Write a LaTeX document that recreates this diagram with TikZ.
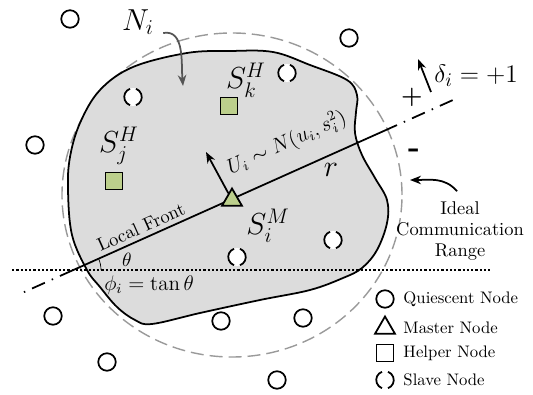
\documentclass[tikz,border=0pt]{standalone}
\usepackage{amsmath,amssymb}
\usetikzlibrary{arrows.meta,positioning,shapes.geometric,calc}
\definecolor{nodegreen}{HTML}{BCCF8C}
\definecolor{blobgray}{HTML}{DCDCDC}
\definecolor{rangegray}{HTML}{9A9A9A}
\definecolor{arrowgray}{HTML}{555555}
\tikzset{
  quiescent/.style={circle, draw, line width=1pt, fill=white, minimum size=3.5mm, inner sep=0pt},
  slave/.style={circle, minimum size=4.4mm, inner sep=0pt,
    path picture={
      \fill[white] (path picture bounding box.center) circle[radius=1.8mm];
      \draw[line width=1pt] ([shift={(110:1.75mm)}]path picture bounding box.center)
        arc[start angle=110, end angle=250, radius=1.75mm];
      \draw[line width=1pt] ([shift={(-70:1.75mm)}]path picture bounding box.center)
        arc[start angle=-70, end angle=70, radius=1.75mm];
    }},
  helper/.style={rectangle, draw, line width=1pt, fill=nodegreen, minimum size=3.4mm, inner sep=0pt},
  master/.style={regular polygon, regular polygon sides=3, draw, line width=1pt, fill=nodegreen,
                 minimum size=4.6mm, inner sep=0pt},
  region/.style={draw, line width=1pt, fill=blobgray},
  commrange/.style={rangegray, line width=0.8pt, dash pattern=on 2.6mm off 1.2mm},
  horiz/.style={line width=0.9pt, dash pattern=on 0.45mm off 0.4mm},
  dashdot/.style={line width=1pt, dash pattern=on 0pt off 1.5mm on 0.3mm off 1.5mm on 2.8mm off 0pt},
  arr/.style={-{Stealth[length=2.2mm, width=1.7mm]}, line width=1pt},
  grayarr/.style={arr, arrowgray},
  biglab/.style={font=\fontsize{18}{20}\selectfont, inner sep=0pt},
  midlab/.style={font=\fontsize{15}{17}\selectfont, inner sep=0pt},
  smalllab/.style={font=\fontsize{10.5}{12}\selectfont, inner sep=0pt, align=center},
  legtext/.style={font=\fontsize{9.5}{11}\selectfont, inner sep=0pt, anchor=west},
}
\begin{document}
\begin{tikzpicture}[x=0.2mm, y=-0.2mm]
  \useasboundingbox (0,0) rectangle (533,395);
  % ideal range and neighbourhood
  \draw[commrange] (232,195) ellipse[x radius=34mm, y radius=32.4mm];
  \draw[region] plot[smooth cycle, tension=0.6] coordinates {
    (68,190) (72,235) (87,270) (100,287) (117,307) (135,320) (152,324) (200,313)
    (260,300) (310,290) (343,278) (362,268) (377,250) (387,223) (387,200) (375,178)
    (362,155) (355,133) (356,112) (357,95) (347,80) (310,65) (273,52) (230,51)
    (187,53) (133,67) (100,90) (80,123) (70,157)};
  \draw[horiz] (12,270) -- (490,270);
  % local front
  \coordinate (fl) at (22,293);
  \coordinate (fr) at (453,100);
  \coordinate (fa) at ($(fl)!0.088!(fr)$);
  \coordinate (fb) at ($(fl)!0.87!(fr)$);
  \draw[line width=1pt] (fa) -- (fb);
  \draw[dashdot] (fa) -- (fl);
  \draw[dashdot] (fb) -- (fr);
  \node[smalllab, rotate=24.1] (front) at (141,227) {Local Front};
  \coordinate (vx) at (73,270);
  \draw[thin] (vx) ++(0:5.6mm) arc[start angle=0, end angle=24.1, radius=5.6mm];
  \node[font=\fontsize{11}{13}\selectfont, inner sep=0pt] (theta) at (127,260) {$\theta$};
  \node[font=\fontsize{12}{14}\selectfont, inner sep=0pt] (phi) at (149,285) {$\phi_i = \tan\theta$};
  % nodes
  \node[quiescent] (q1) at (70,19) {};
  \node[quiescent] (q2) at (35,145) {};
  \node[quiescent] (q3) at (349,38) {};
  \node[quiescent] (q4) at (53,316) {};
  \node[quiescent] (q5) at (107,362) {};
  \node[quiescent] (q6) at (221,321) {};
  \node[quiescent] (q7) at (303,318) {};
  \node[quiescent] (q8) at (277,380) {};
  \node[slave] (s1) at (133,97) {};
  \node[slave] (s2) at (287,73) {};
  \node[slave] (s3) at (237,257) {};
  \node[slave] (s4) at (333,240) {};
  \node[helper] (hk) at (229,106) {};
  \node[helper] (hj) at (114,181) {};
  \node[master] (m) at (232,200) {};
  % labels
  \node[biglab] (Ni) at (138,22) {$N_i$};
  \node[biglab] (Skh) at (246,80) {$S_k^H$};
  \node[biglab] (Sjh) at (119,146) {$S_j^H$};
  \node[biglab] (Sim) at (268,226) {$S_i^M$};
  \node[biglab] (r) at (331,170) {$r$};
  \node[font=\fontsize{12}{14}\selectfont, inner sep=0pt, rotate=24.1] (ulab) at (287,143) {$U_i \sim N(u_i, s_i^2)$};
  \node[midlab, anchor=west] (delta) at (434,76) {$\delta_i = +1$};
  \node[font=\fontsize{14}{14}\selectfont\bfseries, inner sep=0pt] (plus) at (412,97) {+};
  \node[font=\fontsize{18}{18}\selectfont\bfseries, inner sep=0pt] (minus) at (414,153) {-};
  \node[smalllab] (rangetext) at (460,231) {Ideal\\Communication\\Range};
  % arrows
  \coordinate (nitip) at (183,86);
  \coordinate (utip) at (206,152);
  \coordinate (dtail) at (431,92);
  \coordinate (dtip) at (418,59);
  \coordinate (rim) at (410,180);
  \draw[grayarr] ([shift={(1.8mm,0.4mm)}]Ni.south east) to[out=10, in=95] (nitip);
  \draw[arr] (m) -- (utip);
  \draw[arr] (dtail) -- (dtip);
  \draw[arr] ([shift={(-0.6mm,2mm)}]rangetext.north) to[out=130, in=0] (rim);
  % legend
  \node[quiescent] (lq) at (385,299) {};
  \node[master, fill=white] (lm) at (385,328) {};
  \node[helper, fill=white] (lh) at (385,353) {};
  \node[slave] (ls) at (385,380) {};
  \node[legtext, right=1.7mm of lq] (tq) {Quiescent Node};
  \node[legtext] (tm) at (tq.west |- lm) {Master Node};
  \node[legtext] (th) at (tq.west |- lh) {Helper Node};
  \node[legtext] (ts) at (tq.west |- ls) {Slave Node};
\end{tikzpicture}
\end{document}
